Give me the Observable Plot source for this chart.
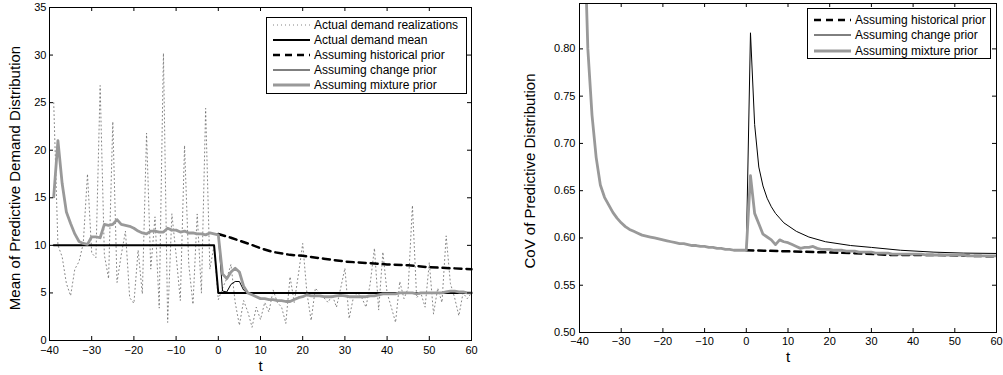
<!DOCTYPE html>
<html>
<head>
<meta charset="utf-8">
<script src="https://cdn.jsdelivr.net/npm/d3@7"></script>
<script src="https://cdn.jsdelivr.net/npm/@observablehq/plot@0.6"></script>
<style>
  body { margin: 0; background: #fff; font-family: "Liberation Sans", Arial, sans-serif; }
  #wrap { position: relative; width: 1003px; height: 375px; overflow: hidden; background: #fff; }
  #left, #right { position: absolute; top: 0; }
  #left { left: 0; }
  #right { left: 500px; }
  .legend { position: absolute; border: 1px solid #000; background: #fff; box-sizing: border-box; }
  .row { position: absolute; left: 0; height: 15px; display: flex; align-items: center; font-size: 12px; color: #000; white-space: nowrap; }
  .row svg { margin-left: 6px; margin-right: 4px; }
</style>
</head>
<body>
<div id="wrap">
  <div id="left"></div>
  <div id="right"></div>
</div>
<script>
// ---------- data ----------
const tAll = [-39,-38,-37,-36,-35,-34,-33,-32,-31,-30,-29,-28,-27,-26,-25,-24,-23,-22,-21,-20,
  -19,-18,-17,-16,-15,-14,-13,-12,-11,-10,-9,-8,-7,-6,-5,-4,-3,-2,-1,0,
  1,2,3,4,5,6,7,8,9,10,11,12,13,14,15,16,17,18,19,20,
  21,22,23,24,25,26,27,28,29,30,31,32,33,34,35,36,37,38,39,40,
  41,42,43,44,45,46,47,48,49,50,51,52,53,54,55,56,57,58,59,60];

const tPost = [0,1,2,3,4,5,6,7,8,9,10,11,12,13,14,15,16,17,18,19,20,
  21,22,23,24,25,26,27,28,29,30,31,32,33,34,35,36,37,38,39,40,
  41,42,43,44,45,46,47,48,49,50,51,52,53,54,55,56,57,58,59,60];

const demandRealizations = [
  25, 10, 8.8, 6, 4.7, 7.5, 8.3, 10.2, 17.5, 9.2,
  8.7, 26.8, 9, 6.5, 23, 6.1, 9, 11.5, 4.5, 3.9,
  9.5, 4.9, 21.8, 7.5, 13, 3.4, 30.2, 1.9, 13.3, 9,
  4.2, 20.5, 8, 3.8, 13.3, 5, 24.4, 7.5, 10, 4.3,
  5.5, 6.5, 8, 4, 1.6, 4.2, 3, 1.4, 3.5, 2.2,
  4, 3, 5.3, 4, 3.5, 1.8, 6.7, 4, 7, 10.2,
  5, 2.1, 5.5, 5, 4.5, 4, 4.8, 3.5, 5.5, 7.6,
  2.3, 4.5, 5, 4.5, 3.5, 6, 9.7, 3.2, 9.3, 5,
  3.5, 1.9, 6.2, 4.4, 5.5, 14.2, 4.5, 5, 3.5, 8.2,
  2.8, 5.5, 4, 11, 6, 4.5, 2.6, 5, 4.4, 5
];

const meanT = [-39, -1, 0, 60];
const meanV = [10, 10, 5, 5];

const meanMixture = [
  15.1, 21, 16.5, 13.5, 12.3, 11.2, 10.4, 10.2, 10.1, 10.9,
  10.9, 10.8, 12.2, 12.1, 12.2, 12.7, 12.2, 12.1, 12, 11.8,
  11.5, 11.3, 11.2, 11.5, 11.5, 11.4, 11.4, 11.8, 11.6, 11.6,
  11.4, 11.5, 11.3, 11.3, 11.2, 11.2, 11.1, 11.3, 11.2, 11.1,
  7, 6.5, 7.2, 7.6, 7.2, 5.7, 5.0, 4.8, 4.6, 4.4,
  4.4, 4.3, 4.3, 4.2, 4.2, 4.1, 4.1, 4.3, 4.5, 4.6,
  4.8, 4.7, 4.7, 4.7, 4.6, 4.6, 4.6, 4.7, 4.75, 4.7,
  4.6, 4.6, 4.6, 4.6, 4.6, 4.7, 4.7, 4.8, 4.9, 4.9,
  4.9, 4.9, 5.0, 5.0, 5.0, 5.0, 4.9, 5.0, 5.0, 5.0,
  5.0, 5.0, 5.0, 5.1, 5.2, 5.2, 5.1, 5.1, 5.0, 5.0
];

const meanChange = [
  11.1, 5.2, 5.1, 5.9, 6.2, 6.2, 5.3, 5.0, 4.8, 4.6, 4.4,
  4.4, 4.3, 4.3, 4.2, 4.2, 4.1, 4.1, 4.3, 4.5, 4.6,
  4.8, 4.7, 4.7, 4.7, 4.6, 4.6, 4.6, 4.7, 4.75, 4.7,
  4.6, 4.6, 4.6, 4.6, 4.6, 4.7, 4.7, 4.8, 4.9, 4.9,
  4.9, 4.9, 5.0, 5.0, 5.0, 5.0, 4.9, 5.0, 5.0, 5.0,
  5.0, 5.0, 5.0, 5.1, 5.2, 5.2, 5.1, 5.1, 5.0, 5.0
];

const histT = [0, 3, 7, 10, 13, 17, 20, 25, 30, 35, 40, 45, 50, 55, 60];
const histV = [11.2, 10.8, 10.2, 9.7, 9.3, 9.0, 8.9, 8.6, 8.3, 8.15, 8.0, 7.9, 7.7, 7.6, 7.5];

const covMixture = [
  0.95, 0.80, 0.73, 0.685, 0.656, 0.643, 0.635, 0.627, 0.621, 0.616,
  0.612, 0.609, 0.607, 0.605, 0.603, 0.602, 0.601, 0.600, 0.599, 0.598,
  0.597, 0.596, 0.595, 0.594, 0.594, 0.593, 0.592, 0.592, 0.591, 0.591,
  0.590, 0.590, 0.589, 0.589, 0.588, 0.588, 0.587, 0.587, 0.587, 0.587,
  0.666, 0.626, 0.615, 0.604, 0.601, 0.598, 0.593, 0.598, 0.596, 0.595,
  0.593, 0.591, 0.589, 0.590, 0.590, 0.591, 0.589, 0.588, 0.588, 0.588,
  0.587, 0.587, 0.587, 0.586, 0.586, 0.586, 0.585, 0.585, 0.585, 0.585,
  0.584, 0.584, 0.584, 0.584, 0.583, 0.583, 0.583, 0.583, 0.583, 0.583,
  0.583, 0.583, 0.582, 0.582, 0.582, 0.582, 0.582, 0.582, 0.582, 0.582,
  0.582, 0.582, 0.581, 0.581, 0.581, 0.581, 0.581, 0.581, 0.581, 0.581
];

const covChangeT = [0, 1, 2, 3, 4, 5, 6, 7, 8, 9, 10, 12, 15, 19, 25, 30, 37, 45, 52, 60];
const covChangeV = [0.587, 0.817, 0.72, 0.675, 0.655, 0.642, 0.633, 0.626, 0.621, 0.616, 0.613, 0.607, 0.601, 0.596, 0.592, 0.590, 0.587, 0.585, 0.584, 0.5836];

const covHistT = [0, 9, 17, 25, 35, 45, 60];
const covHistV = [0.587, 0.586, 0.585, 0.584, 0.582, 0.582, 0.5805];

const xTicks = [-40, -30, -20, -10, 0, 10, 20, 30, 40, 50, 60];
const yTicksLeft = [0, 5, 10, 15, 20, 25, 30, 35];
const yTicksRight = [0.5, 0.55, 0.6, 0.65, 0.7, 0.75, 0.8];

const leftLegend = ["Actual demand realizations", "Actual demand mean", "Assuming historical prior", "Assuming change prior", "Assuming mixture prior"];
const rightLegend = ["Assuming historical prior", "Assuming change prior", "Assuming mixture prior"];

// ---------- styles ----------
const S = {
  real: {stroke: "#666", strokeWidth: 0.8, strokeDasharray: "1,3"},
  mean: {stroke: "#000", strokeWidth: 2},
  hist: {stroke: "#000", strokeWidth: 2.5, strokeDasharray: "7,5"},
  change: {stroke: "#000", strokeWidth: 1},
  mix: {stroke: "#999", strokeWidth: 2.8}
};

const zipT = (ts, vs) => ts.map((t, i) => ({t, v: vs[i]}));

function innerTicks(xs, ys, plotW, plotH, len) {
  return [
    Plot.tickX(xs, {x: d => d, insetTop: plotH - len, stroke: "#000"}),
    Plot.tickX(xs, {x: d => d, insetBottom: plotH - len, stroke: "#000"}),
    Plot.tickY(ys, {y: d => d, insetRight: plotW - len, stroke: "#000"}),
    Plot.tickY(ys, {y: d => d, insetLeft: plotW - len, stroke: "#000"})
  ];
}

// ---------- left chart ----------
{
  const W = 490, H = 375, mL = 49, mR = 19, mT = 7, mB = 35;
  const pw = W - mL - mR, ph = H - mT - mB;
  const chart = Plot.plot({
    width: W, height: H,
    marginLeft: mL, marginRight: mR, marginTop: mT, marginBottom: mB,
    style: {fontFamily: "Liberation Sans, Arial, sans-serif", fontSize: "11px", color: "#000", background: "#fff", overflow: "visible"},
    x: {domain: [-40, 60]},
    y: {domain: [0, 35]},
    marks: [
      Plot.line(zipT(tAll, demandRealizations), {x: "t", y: "v", ...S.real}),
      Plot.line(zipT(meanT, meanV), {x: "t", y: "v", ...S.mean}),
      Plot.line(zipT(histT, histV), {x: "t", y: "v", ...S.hist}),
      Plot.line(zipT(tPost, meanChange), {x: "t", y: "v", ...S.change}),
      Plot.line(zipT(tAll, meanMixture), {x: "t", y: "v", ...S.mix}),
      Plot.frame({stroke: "#000", strokeWidth: 1}),
      ...innerTicks(xTicks, yTicksLeft, pw, ph, 4),
      Plot.axisX({ticks: xTicks, tickSize: 0, tickPadding: 6, label: null}),
      Plot.axisY({ticks: yTicksLeft, tickSize: 0, tickPadding: 3, label: null}),
      Plot.text(["Mean of Predictive Demand Distribution"], {text: d => d, frameAnchor: "left", textAnchor: "middle", rotate: -90, dx: -34, dy: 4, fontSize: 15}),
      Plot.text(["t"], {text: d => d, frameAnchor: "bottom", dy: 30, fontSize: 15})
    ]
  });
  document.getElementById("left").appendChild(chart);
}

// ---------- right chart ----------
{
  const W = 503, H = 375, mL = 79, mR = 7, mT = 3, mB = 43;
  const pw = W - mL - mR, ph = H - mT - mB;
  const chart = Plot.plot({
    width: W, height: H,
    marginLeft: mL, marginRight: mR, marginTop: mT, marginBottom: mB,
    style: {fontFamily: "Liberation Sans, Arial, sans-serif", fontSize: "11px", color: "#000", background: "#fff", overflow: "visible"},
    x: {domain: [-40, 60]},
    y: {domain: [0.5, 0.848]},
    marks: [
      Plot.line(zipT(covHistT, covHistV), {x: "t", y: "v", ...S.hist}),
      Plot.line(zipT(covChangeT, covChangeV), {x: "t", y: "v", ...S.change}),
      Plot.line(zipT(tAll, covMixture), {x: "t", y: "v", ...S.mix, clip: true}),
      Plot.frame({stroke: "#000", strokeWidth: 1}),
      ...innerTicks(xTicks, yTicksRight, pw, ph, 4),
      Plot.axisX({ticks: xTicks, tickSize: 0, tickPadding: 5, label: null}),
      Plot.axisY({ticks: yTicksRight, tickSize: 0, tickPadding: 4, label: null}),
      Plot.text(["CoV of Predictive Distribution"], {text: d => d, frameAnchor: "left", textAnchor: "middle", rotate: -90, dx: -49, dy: 3, fontSize: 15}),
      Plot.text(["t"], {text: d => d, frameAnchor: "bottom", dy: 29, fontSize: 15})
    ]
  });
  document.getElementById("right").appendChild(chart);
}

// ---------- legends ----------
function swatch(style) {
  const ns = "http://www.w3.org/2000/svg";
  const svg = document.createElementNS(ns, "svg");
  svg.setAttribute("width", 37);
  svg.setAttribute("height", 8);
  const ln = document.createElementNS(ns, "line");
  ln.setAttribute("x1", 0); ln.setAttribute("x2", 37);
  ln.setAttribute("y1", 4); ln.setAttribute("y2", 4);
  ln.setAttribute("stroke", style.stroke);
  ln.setAttribute("stroke-width", style.strokeWidth);
  if (style.strokeDasharray) ln.setAttribute("stroke-dasharray", style.strokeDasharray);
  svg.appendChild(ln);
  return svg;
}
function legend(box, labels, styles, firstCenter, step) {
  const div = document.createElement("div");
  div.className = "legend";
  Object.assign(div.style, {left: box.x + "px", top: box.y + "px", width: box.w + "px", height: box.h + "px"});
  labels.forEach((lab, i) => {
    const r = document.createElement("div");
    r.className = "row";
    r.style.top = (firstCenter + i * step - 7.5) + "px";
    r.appendChild(swatch(styles[i]));
    const s = document.createElement("span");
    s.textContent = lab;
    r.appendChild(s);
    div.appendChild(r);
  });
  document.getElementById("wrap").appendChild(div);
}
legend({x: 266, y: 17, w: 201, h: 77}, leftLegend, [S.real, S.mean, S.hist, S.change, S.mix], 6.5, 15);
legend({x: 807, y: 8, w: 184, h: 51}, rightLegend, [S.hist, S.change, S.mix], 10.5, 15.5);
</script>
</body>
</html>
